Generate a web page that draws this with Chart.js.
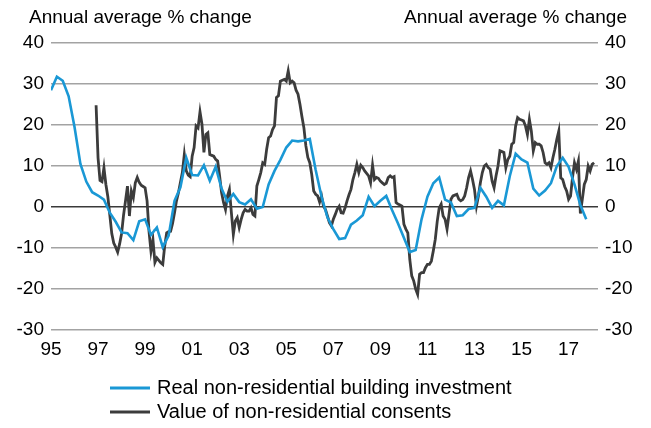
<!DOCTYPE html>
<html>
<head>
<meta charset="utf-8">
<script src="https://cdn.jsdelivr.net/npm/chart.js@4.4.1/dist/chart.umd.min.js"></script>
<style>
    html, body { margin: 0; padding: 0; background: #fff; }
</style>
</head>
<body>
<canvas id="chart" width="651" height="428"></canvas>
<script>
// Real non-residential building investment, quarterly from 1995 Q1
const investmentStart = 1995;
const investment = [
    28.5, 31.8, 30.8, 27,      // 1995
    19.5, 10.5, 6.2, 3.6,      // 1996
    2.8, 1.8, -1.4, -3.6,      // 1997
    -6.2, -6.4, -8.1, -3.5,    // 1998
    -3.0, -6.8, -5.0, -9.8,    // 1999
    -7, 1.5, 4.8, 12,          // 2000
    7.8, 7.7, 10.2, 6.4,       // 2001
    9.8, 4.5, 1.3, 3.2,        // 2002
    1.2, 0.6, 1.9, -0.4,       // 2003
    0, 5.5, 8.8, 11.5,         // 2004
    14.5, 16.2, 16, 16.2,      // 2005
    16.6, 9, 2.5, -2.5,        // 2006
    -5.4, -7.8, -7.6, -4.3,    // 2007
    -3.3, -2, 2.5, 0.2,        // 2008
    1.5, 2.7, -0.8, -4,        // 2009
    -7.5, -11, -10.5, -3,      // 2010
    2.5, 5.8, 7.2, 1.8,        // 2011
    1.1, -2.2, -2, -0.5,       // 2012
    -0.2, 4.7, 2.5, -0.2,      // 2013
    1.5, 0.4, 7.5, 13,         // 2014
    11.6, 10.8, 4.5, 2.8,      // 2015
    4, 5.8, 10, 12,            // 2016
    9.8, 5.5, 0.5, -3          // 2017
];

// Value of non-residential consents, monthly from Dec 1996
const consentsStart = 1996 + 11 / 12;
const consents = [
    24.8,
    12, 6.5, 6.2, 9.6, 5.5, 2.5, -2, -6.5, -8.8, -9.8, -11, -9,                 // 1997
    -6.5, -2, 1.5, 5.1, -2.2, 3.9, 2.3, 5.9, 7.2, 6, 5.3, 5,                    // 1998
    4.7, 1.5, -6, -10.8, -8, -13.5, -12.4, -13, -13.6, -14, -9.5, -6.3,         // 1999
    -6, -5.9, -4, -1.4, 1.5, 3.5, 6, 8.4, 12.8, 8.8, 7.8, 7.4,                  // 2000
    12.4, 14.5, 19.8, 19.3, 23.2, 20.2, 13.3, 17.7, 18.1, 12.8, 12.6, 12.4,     // 2001
    11.6, 11.2, 7.6, 3.5, 1.1, -0.6, 2.7, 4.3, -1.4, -6.7, -3.4, -2.6,          // 2002
    -5, -3, -1.4, -0.6, -1, -1, -0.2, -1.8, -2.2, 5.1, 6.7, 8.4,                // 2003
    10.8, 10.4, 14.1, 16.9, 17.3, 18.9, 19.8, 26.7, 27.1, 30.7, 30.9, 31.1,     // 2004
    30.7, 33.2, 30.3, 30.7, 30.3, 28.5, 27.5, 25, 22, 19.3, 14.9, 12.1,         // 2005
    10.8, 7.9, 3.9, 3.1, 2.7, 1.2, 2.7, 0.2, -0.6, -2.2, -3.8, -4.6,            // 2006
    -3, -1.8, -0.5, 0.2, -1.4, -1.5, -0.2, 1.5, 3, 4.3, 6.7, 8.4,               // 2007
    10.4, 8.4, 10.2, 9.6, 8.8, 8.2, 7.6, 5.9, 10.2, 6.7, 7.2, 7,                // 2008
    6.3, 5.9, 5.5, 5.8, 7.2, 7.6, 7.2, 7.4, 1.1, 0.7, 0.5, 0.2,                 // 2009
    -4.2, -5.4, -6.3, -12.8, -16.8, -18, -20, -21.3, -16.4, -16, -16, -14.8,    // 2010
    -14, -14, -13.2, -10.7, -7.9, -3.5, -0.2, 0.7, -2.2, -3, -5.4, -1.8,        // 2011
    1.9, 2.7, 2.9, 3.1, 1.9, 1.5, 1.8, 2.7, 4.7, 7.2, 8.8, 6.7,                 // 2012
    4.3, 0.2, 2.7, 5.9, 8.4, 10, 10.4, 9.6, 9.2, 6.3, 4.7, 7.6,                 // 2013
    10, 13.7, 13.5, 13.3, 9.6, 11.6, 12.4, 15.3, 15.7, 19.8, 21.8, 21.4,        // 2014
    21.2, 21, 19.8, 17.7, 21.4, 18.5, 13.7, 15.7, 15.3, 15.3, 14.9, 13.3,       // 2015
    10.8, 10.4, 10.8, 9.6, 12, 14.1, 16.5, 18.5, 7.1, 6.7, 5, 3.9,              // 2016
    1.9, 2.7, 7.2, 10.8, 9.2, 11.2, -1.6, 1.9, 5.5, 6.7, 10, 8.8,               // 2017
    10.4, 10.8                                                                  // 2018
];

const yearTicks = [1995, 1997, 1999, 2001, 2003, 2005, 2007, 2009, 2011, 2013, 2015, 2017];
const valueTicks = [-30, -20, -10, 0, 10, 20, 30, 40];
const seriesNames = ['Real non-residential building investment', 'Value of non-residential consents'];
const axisTitle = 'Annual average % change';

const FONT = "'Liberation Sans', Arial, sans-serif";
Chart.defaults.font.family = FONT;
Chart.defaults.font.size = 19;
Chart.defaults.color = '#000';

// titles above both value axes
const axisTitles = {
    id: 'axisTitles',
    afterDraw(chart) {
        const ctx = chart.ctx;
        ctx.save();
        ctx.font = '19px ' + FONT;
        ctx.fillStyle = '#000';
        ctx.textBaseline = 'middle';
        ctx.textAlign = 'left';
        ctx.fillText(axisTitle, 29, 18);
        ctx.textAlign = 'right';
        ctx.fillText(axisTitle, 627, 18);
        ctx.restore();
    }
};

// stacked legend under the x axis
const stackedLegend = {
    id: 'stackedLegend',
    afterDraw(chart) {
        const ctx = chart.ctx;
        ctx.save();
        ctx.font = '20px ' + FONT;
        ctx.textBaseline = 'middle';
        ctx.textAlign = 'left';
        chart.data.datasets.forEach(function (ds, i) {
            const y = 388 + i * 24;
            ctx.strokeStyle = ds.borderColor;
            ctx.lineWidth = 3;
            ctx.beginPath();
            ctx.moveTo(110, y);
            ctx.lineTo(150, y);
            ctx.stroke();
            ctx.fillStyle = '#000';
            ctx.fillText(ds.label, 157, y);
        });
        ctx.restore();
    }
};

const valueAxis = function (side, width) {
    return {
        type: 'linear',
        position: side,
        min: -30,
        max: 40,
        afterBuildTicks: function (axis) { axis.ticks = valueTicks.map(v => ({ value: v })); },
        ticks: { padding: 7 },
        border: { display: false },
        grid: {
            display: side === 'left',
            drawTicks: false,
            lineWidth: 1.5,
            color: ctx => ctx.tick.value === 0 ? '#3a3a3a' : '#a3a3a3'
        },
        afterFit: function (axis) { axis.width = width; }
    };
};

new Chart(document.getElementById('chart'), {
    type: 'line',
    data: {
        datasets: [
            {
                label: seriesNames[0],
                data: investment.map((v, i) => ({ x: investmentStart + i / 4, y: v })),
                borderColor: '#1a98d5',
                borderWidth: 2.6,
                pointRadius: 0,
                tension: 0
            },
            {
                label: seriesNames[1],
                data: consents.map((v, i) => ({ x: consentsStart + i / 12, y: v })),
                borderColor: '#3c3c3c',
                borderWidth: 2.8,
                pointRadius: 0,
                tension: 0
            }
        ]
    },
    options: {
        responsive: false,
        devicePixelRatio: 1,
        animation: false,
        layout: { padding: { top: 43, left: 0, right: 0, bottom: 0 } },
        plugins: { legend: { display: false }, tooltip: { enabled: false } },
        scales: {
            x: {
                type: 'linear',
                min: 1995,
                max: 2018.25,
                afterBuildTicks: function (axis) { axis.ticks = yearTicks.map(v => ({ value: v })); },
                ticks: {
                    padding: 0,
                    maxRotation: 0,
                    autoSkip: false,
                    callback: v => String(v).slice(2)
                },
                grid: { display: false },
                border: { display: false },
                afterFit: function (axis) { axis.height = 98; }
            },
            y: valueAxis('left', 51),
            y2: valueAxis('right', 53)
        }
    },
    plugins: [axisTitles, stackedLegend]
});
</script>
</body>
</html>
